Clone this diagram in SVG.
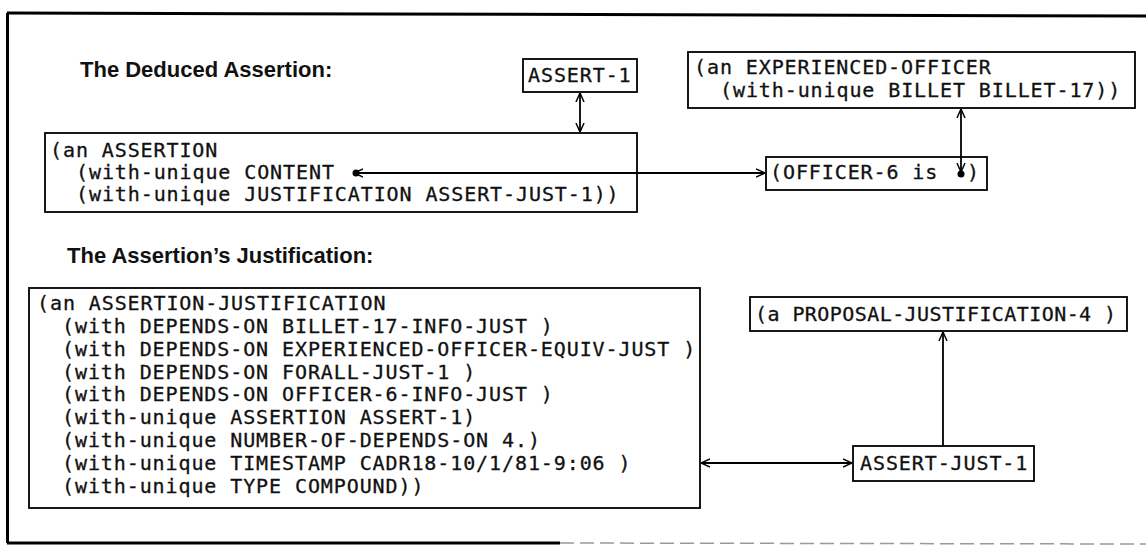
<svg xmlns="http://www.w3.org/2000/svg" width="1146" height="546" viewBox="0 0 1146 546">
<style>
.box{fill:none;stroke:#000;stroke-width:1.8}
.frame{fill:none;stroke:#000;stroke-width:3}
.mono{font-family:"DejaVu Sans Mono","Liberation Mono",monospace;font-size:20px;letter-spacing:0.9px;fill:#111;stroke:#111;stroke-width:0.3}
.head{font-family:"Liberation Sans",Arial,sans-serif;font-weight:bold;font-size:22px;fill:#111}
.conn{fill:none;stroke:#000;stroke-width:1.8}
</style>
<defs>
<marker id="ah" viewBox="0 0 10 10" refX="10" refY="5" markerWidth="9" markerHeight="10" markerUnits="userSpaceOnUse" orient="auto-start-reverse">
<path d="M0,0.5 L10,5 L0,9.5" fill="none" stroke="#000" stroke-width="1.6"/>
</marker>
</defs>
<rect width="1146" height="546" fill="#fff"/>
<g id="frame">
<path class="frame" d="M7,13 L1146,16"/>
<path class="frame" d="M7.5,13 V543"/>
<path class="frame" d="M7,543 L560,543"/>
<path d="M560,543 L1146,544" fill="none" stroke="#999" stroke-width="1.5" stroke-dasharray="14 6"/>
</g>
<g id="heading-deduced"><text class="head" x="80" y="77">The Deduced Assertion:</text></g>
<g id="heading-justification"><text class="head" x="67" y="263">The Assertion’s Justification:</text></g>
<g id="n-assert1">
<rect class="box" x="523" y="59" width="114" height="33"/>
<text class="mono" x="528" y="82">ASSERT-1</text>
</g>
<g id="n-assertion">
<rect class="box" x="45" y="133" width="592" height="79"/>
<text class="mono" x="50" y="157">(an ASSERTION</text>
<text class="mono" x="76" y="179">(with-unique CONTENT</text>
<text class="mono" x="76" y="201">(with-unique JUSTIFICATION ASSERT-JUST-1))</text>
</g>
<g id="n-experienced-officer">
<rect class="box" x="688" y="52" width="447" height="56"/>
<text class="mono" x="694" y="74">(an EXPERIENCED-OFFICER</text>
<text class="mono" x="720" y="97">(with-unique BILLET BILLET-17))</text>
</g>
<g id="n-officer6">
<rect class="box" x="766" y="157" width="221" height="33"/>
<text class="mono" x="770" y="179">(OFFICER-6 is</text>
<text class="mono" x="967" y="179">)</text>
</g>
<g id="n-assertion-justification">
<rect class="box" x="29" y="288" width="671" height="220"/>
<text class="mono" x="37" y="310">(an ASSERTION-JUSTIFICATION</text>
<text class="mono" x="62" y="333">(with DEPENDS-ON BILLET-17-INFO-JUST )</text>
<text class="mono" x="62" y="356">(with DEPENDS-ON EXPERIENCED-OFFICER-EQUIV-JUST )</text>
<text class="mono" x="62" y="379">(with DEPENDS-ON FORALL-JUST-1 )</text>
<text class="mono" x="62" y="401">(with DEPENDS-ON OFFICER-6-INFO-JUST )</text>
<text class="mono" x="62" y="424">(with-unique ASSERTION ASSERT-1)</text>
<text class="mono" x="62" y="447">(with-unique NUMBER-OF-DEPENDS-ON 4.)</text>
<text class="mono" x="62" y="470">(with-unique TIMESTAMP CADR18-10/1/81-9:06 )</text>
<text class="mono" x="62" y="493">(with-unique TYPE COMPOUND))</text>
</g>
<g id="n-proposal">
<rect class="box" x="750" y="297" width="377" height="34"/>
<text class="mono" x="755" y="321" textLength="362" lengthAdjust="spacing">(a PROPOSAL-JUSTIFICATION-4 )</text>
</g>
<g id="n-assert-just1">
<rect class="box" x="853" y="446" width="181" height="35"/>
<text class="mono" x="860" y="470">ASSERT-JUST-1</text>
</g>
<g id="connectors">
<line class="conn" x1="580" y1="93" x2="580" y2="132" marker-start="url(#ah)" marker-end="url(#ah)"/>
<circle cx="356" cy="173" r="3.5" fill="#000"/>
<line class="conn" x1="354" y1="173" x2="765" y2="173" marker-start="url(#ah)" marker-end="url(#ah)"/>
<circle cx="961" cy="174" r="3.5" fill="#000"/>
<line class="conn" x1="961" y1="172" x2="961" y2="109" marker-start="url(#ah)" marker-end="url(#ah)"/>
<line class="conn" x1="701" y1="463" x2="852" y2="463" marker-start="url(#ah)" marker-end="url(#ah)"/>
<line class="conn" x1="943" y1="446" x2="943" y2="332" marker-end="url(#ah)"/>
</g>
</svg>
